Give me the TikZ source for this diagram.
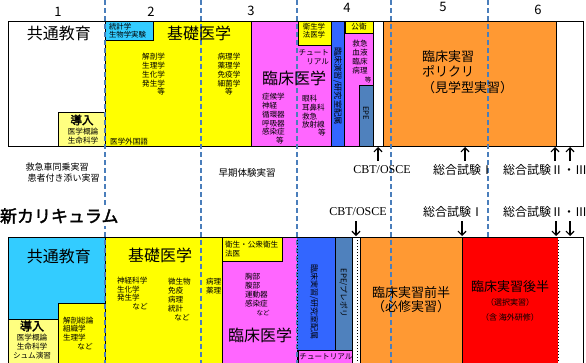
\documentclass[tikz,border=0pt]{standalone}
\usepackage{fontspec}
\setmainfont{Noto Sans CJK JP}
\newfontfamily\jpbold{Noto Sans CJK JP}[FakeBold=2]
\newfontfamily\latserif{Liberation Serif}
\usetikzlibrary{arrows.meta}
\definecolor{cyanbox}{HTML}{33CCFF}
\definecolor{yel}{HTML}{FFFF00}
\definecolor{paleyel}{HTML}{FFFF80}
\definecolor{pinkbox}{HTML}{FF66FF}
\definecolor{bluebox}{HTML}{3366FF}
\definecolor{steelbox}{HTML}{4F81BD}
\definecolor{orangebox}{HTML}{FF9933}
\definecolor{redbox}{HTML}{FF0000}
\definecolor{dashblue}{HTML}{4A7EBB}
\newcommand{\myfs}[2]{\fontsize{#1}{#2}\selectfont}
\begin{document}
\begin{tikzpicture}[x=1pt,y=-1pt,
  box/.style={draw=black,line width=1pt},
  tx/.style={inner sep=0pt,outer sep=0pt},
  big/.style={tx,font=\myfs{16}{18}},
  sm/.style={tx,font=\myfs{7.6}{8.8}},
  mid/.style={tx,font=\myfs{13}{15.5}},
  lab/.style={tx,font=\myfs{12}{14}},
  num/.style={tx,font=\myfs{13}{15}},
  dl/.style={draw=dashblue,line width=1.6pt,dash pattern=on 5pt off 3pt},
  dotb/.style={draw=black,line width=1pt,dash pattern=on 1pt off 2pt},
  arr/.style={line width=1.2pt,-{Straight Barb[length=4pt,width=8pt]}}]
\useasboundingbox (0,0) rectangle (586,362);

% ---------- column numbers ----------
\node[num] (n1) at (58,12) {1};
\node[num] (n2) at (151,12) {2};
\node[num] (n3) at (251,11) {3};
\node[num] (n4) at (347,8) {4};
\node[num] (n5) at (443,7) {5};
\node[num] (n6) at (538,10) {6};

% ---------- top block (current curriculum) ----------
\draw[box,fill=white] (8,21) rectangle (105,146);
\draw[box,fill=yel] (105,21) rectangle (251,146);
\draw[box,fill=cyanbox] (105,21) rectangle (153,40);
\draw[box,fill=paleyel] (58,112) rectangle (105,146);
\draw[box,fill=pinkbox] (251,21) rectangle (331,146);
\draw[box,fill=yel] (298,21) rectangle (331,45);
\draw[box,fill=bluebox] (331,21) rectangle (344,146);
\draw[box,fill=pinkbox] (344,21) rectangle (373,146);
\draw[box,fill=yel] (345,21) rectangle (373,33);
\draw[box,fill=steelbox] (359,85) rectangle (373,146);
\draw[box,fill=white] (373,21) rectangle (383,146);
\draw[box,fill=orangebox] (383,21) rectangle (556,146);
\draw[box,fill=white] (556,21) rectangle (583,146);

% ---------- bottom block (new curriculum) ----------
\draw[box,fill=cyanbox] (8,237) rectangle (105,366);
\draw[box,fill=yel] (58,303) rectangle (105,366);
\draw[box,fill=paleyel] (8,319) rectangle (58,366);
\draw[box,fill=yel] (105,237) rectangle (222,366);
\draw[box,fill=pinkbox] (222,237) rectangle (297,366);
\draw[box,fill=yel] (222,237) rectangle (282,261);
\fill[bluebox] (297,237) rectangle (335,350);
\draw[box] (297,237) -- (335,237) -- (335,350) -- (297,350);
\draw[box,fill=steelbox] (335,237) rectangle (352,350);
\draw[box,fill=pinkbox] (298,350) rectangle (353,366);
\draw[box,fill=white] (352,237) rectangle (360,366);
\draw[box,fill=orangebox] (360,237) rectangle (462,366);
\draw[box,fill=white] (558,237) -- (583,237) -- (583,366);

% ---------- dashed year separators ----------
\foreach \xx in {105,201,297,391,488}
  \draw[dl] (\xx,0) -- (\xx,366);

% red box over the dashed line
\fill[redbox] (462,237) rectangle (558,366);
\draw[box] (462,366) -- (462,237) -- (558,237);
\draw[dotb] (558,237) -- (558,366);
\draw[dotb] (297,237) -- (297,350);
\draw[dotb] (357,237) -- (357,366);

% ---------- top texts ----------
\node[big] (t-kyotsu) at (59,33) {共通教育};
\node[tx,font=\myfs{11.5}{13}\jpbold] (t-donyu) at (82,120) {導入};
\node[sm,align=center,anchor=north,font=\myfs{7.6}{9}] (t-donyu2) at (83,128.2) {医学概論\\生命科学};
\node[sm,align=left,anchor=north west,font=\myfs{7.4}{8}] (t-toukei) at (109,23.3) {統計学\\生物学実験};
\node[big] (t-kiso) at (199,33) {基礎医学};
\node[sm,align=right,anchor=north east] (t-kaibo) at (165,53.2) {解剖学\\生理学\\生化学\\発生学\\等};
\node[sm,align=center,anchor=north] (t-byori) at (229,53.2) {病理学\\薬理学\\免疫学\\細菌学\\等};
\node[sm,anchor=west] (t-gaikoku) at (110,142) {医学外国語};
\node[big] (t-rinsho) at (294,78) {臨床医学};
\node[sm,align=center,font=\myfs{7.4}{8}] (t-eisei) at (314,31) {衛生学\\法医学};
\node[sm,align=right,anchor=north east,font=\myfs{7.6}{9}] (t-tut) at (329,49.2) {チュート\\リアル};
\node[sm,align=left,anchor=north west] (t-shoko) at (262,93.2) {症候学\\神経\\循環器\\呼吸器\\感染症};
\node[sm] (t-shoko-to) at (280,141) {等};
\node[sm,align=left,anchor=north west] (t-ganka) at (302,95.2) {眼科\\耳鼻科\\救急\\放射線};
\node[sm] (t-ganka-to) at (322,133) {等};
\node[tx,rotate=-90,font=\myfs{8.3}{9}] (t-kenkyu) at (337.5,86) {臨床演習/研究室配属};
\node[sm] (t-koei) at (359,27) {公衛};
\node[sm,align=center,anchor=north] (t-kyukyu) at (360,40.2) {救急\\血液\\臨床\\病理};
\node[tx,font=\myfs{6.5}{8}] (t-kyukyu-to) at (368,80) {等};
\node[tx,rotate=-90,font=\myfs{7.6}{9}] (t-epe) at (366,113) {EPE};
\node[mid,align=left,anchor=north west] (t-poli) at (422,50.5) {臨床実習\\ポリクリ\\（見学型実習）};

% ---------- top arrows and labels ----------
\coordinate (ua1s) at (378,161); \coordinate (ua1e) at (378,147);
\coordinate (ua2s) at (465,161); \coordinate (ua2e) at (465,147);
\coordinate (ua3s) at (555,161); \coordinate (ua3e) at (555,147);
\coordinate (ua4s) at (570,161); \coordinate (ua4e) at (570,147);
\draw[arr] (ua1s) -- (ua1e);
\draw[arr] (ua2s) -- (ua2e);
\draw[arr] (ua3s) -- (ua3e);
\draw[arr] (ua4s) -- (ua4e);
\node[tx,font=\myfs{12}{14}\latserif] (l-cbt1) at (382,170) {CBT/OSCE};
\node[lab] (l-s1a) at (463,170) {総合試験Ⅰ};
\node[lab,anchor=west] (l-s2a) at (503,170) {総合試験Ⅱ・Ⅲ};

\node[tx,font=\myfs{9}{11}] (l-kyukyusha) at (57,167) {救急車同乗実習};
\node[tx,font=\myfs{9}{11}] (l-kanja) at (63.5,178) {患者付き添い実習};
\node[tx,font=\myfs{9.5}{11}] (l-soki) at (247,173) {早期体験実習};

% ---------- title ----------
\node[tx,anchor=west,fill=white,inner ysep=2pt,font=\myfs{17}{19}\jpbold] (title) at (0,216) {新カリキュラム};

% ---------- bottom labels and arrows ----------
\node[tx,font=\myfs{12}{14}\latserif] (l-cbt2) at (358,212) {CBT/OSCE};
\node[lab] (l-s1b) at (453,212) {総合試験Ⅰ};
\node[lab,anchor=west] (l-s2b) at (503,212) {総合試験Ⅱ・Ⅲ};
\coordinate (da1s) at (356,221); \coordinate (da1e) at (356,236);
\coordinate (da2s) at (462,221); \coordinate (da2e) at (462,236);
\coordinate (da3s) at (556,221); \coordinate (da3e) at (556,236);
\coordinate (da4s) at (570,221); \coordinate (da4e) at (570,236);
\draw[arr] (da1s) -- (da1e);
\draw[arr] (da2s) -- (da2e);
\draw[arr] (da3s) -- (da3e);
\draw[arr] (da4s) -- (da4e);

% ---------- bottom texts ----------
\node[big] (b-kyotsu) at (59,256) {共通教育};
\node[tx,font=\myfs{12}{14}\jpbold] (b-donyu) at (32,326) {導入};
\node[sm,align=center,anchor=north,font=\myfs{7.6}{9}] (b-donyu2) at (32,334.2) {医学概論\\生命科学\\シュム演習};
\node[sm,align=left,anchor=north west,font=\myfs{7.6}{8.4}] (b-kaibo) at (63,317.2) {解剖総論\\組織学\\生理学};
\node[sm] (b-kaibo-nado) at (85,346.5) {など};
\node[big] (b-kiso) at (160,255) {基礎医学};
\node[sm,align=left,anchor=north west,font=\myfs{7.6}{8.5}] (b-shinkei) at (117,277.2) {神経科学\\生化学\\発生学};
\node[sm] (b-shinkei-nado) at (140,307) {など};
\node[sm,align=left,anchor=north west,font=\myfs{7.6}{9}] (b-biseibutsu) at (168,278.2) {微生物\\免疫\\病理\\統計};
\node[sm] (b-biseibutsu-nado) at (182,318) {など};
\node[sm,align=left,anchor=north west,font=\myfs{7.6}{9}] (b-byori) at (206,278.2) {病理\\薬理};
\node[sm,align=left,anchor=north west,font=\myfs{7.6}{9}] (b-eisei) at (225,241.2) {衛生・公衆衛生\\法医};
\node[sm,align=left,anchor=north west,font=\myfs{7.6}{9}] (b-kyobu) at (245,273.2) {胸部\\腹部\\運動器\\感染症};
\node[tx,font=\myfs{6.5}{8}] (b-kyobu-nado) at (263,313) {など};
\node[big] (b-rinsho) at (260,335) {臨床医学};
\node[sm] (b-tut) at (326,357) {チュートリアル};
\node[tx,rotate=-90,font=\myfs{8}{9}] (b-kenkyu) at (314,302) {臨床実習/研究室配属};
\node[tx,rotate=-90,font=\myfs{7.8}{9}] (b-epe) at (343.5,293) {EPE/プレポリ};
\node[mid,align=center,anchor=north,font=\myfs{13}{14}] (b-zenhan) at (411,286.5) {臨床実習前半\\（必修実習）};
\node[mid] (b-kohan) at (510,287) {臨床実習後半};
\node[sm,font=\myfs{8}{9}] (b-sentaku) at (510,302) {（選択実習）};
\node[sm,font=\myfs{8}{9}] (b-kaigai) at (510,317) {（含 海外研修）};
\end{tikzpicture}
\end{document}
